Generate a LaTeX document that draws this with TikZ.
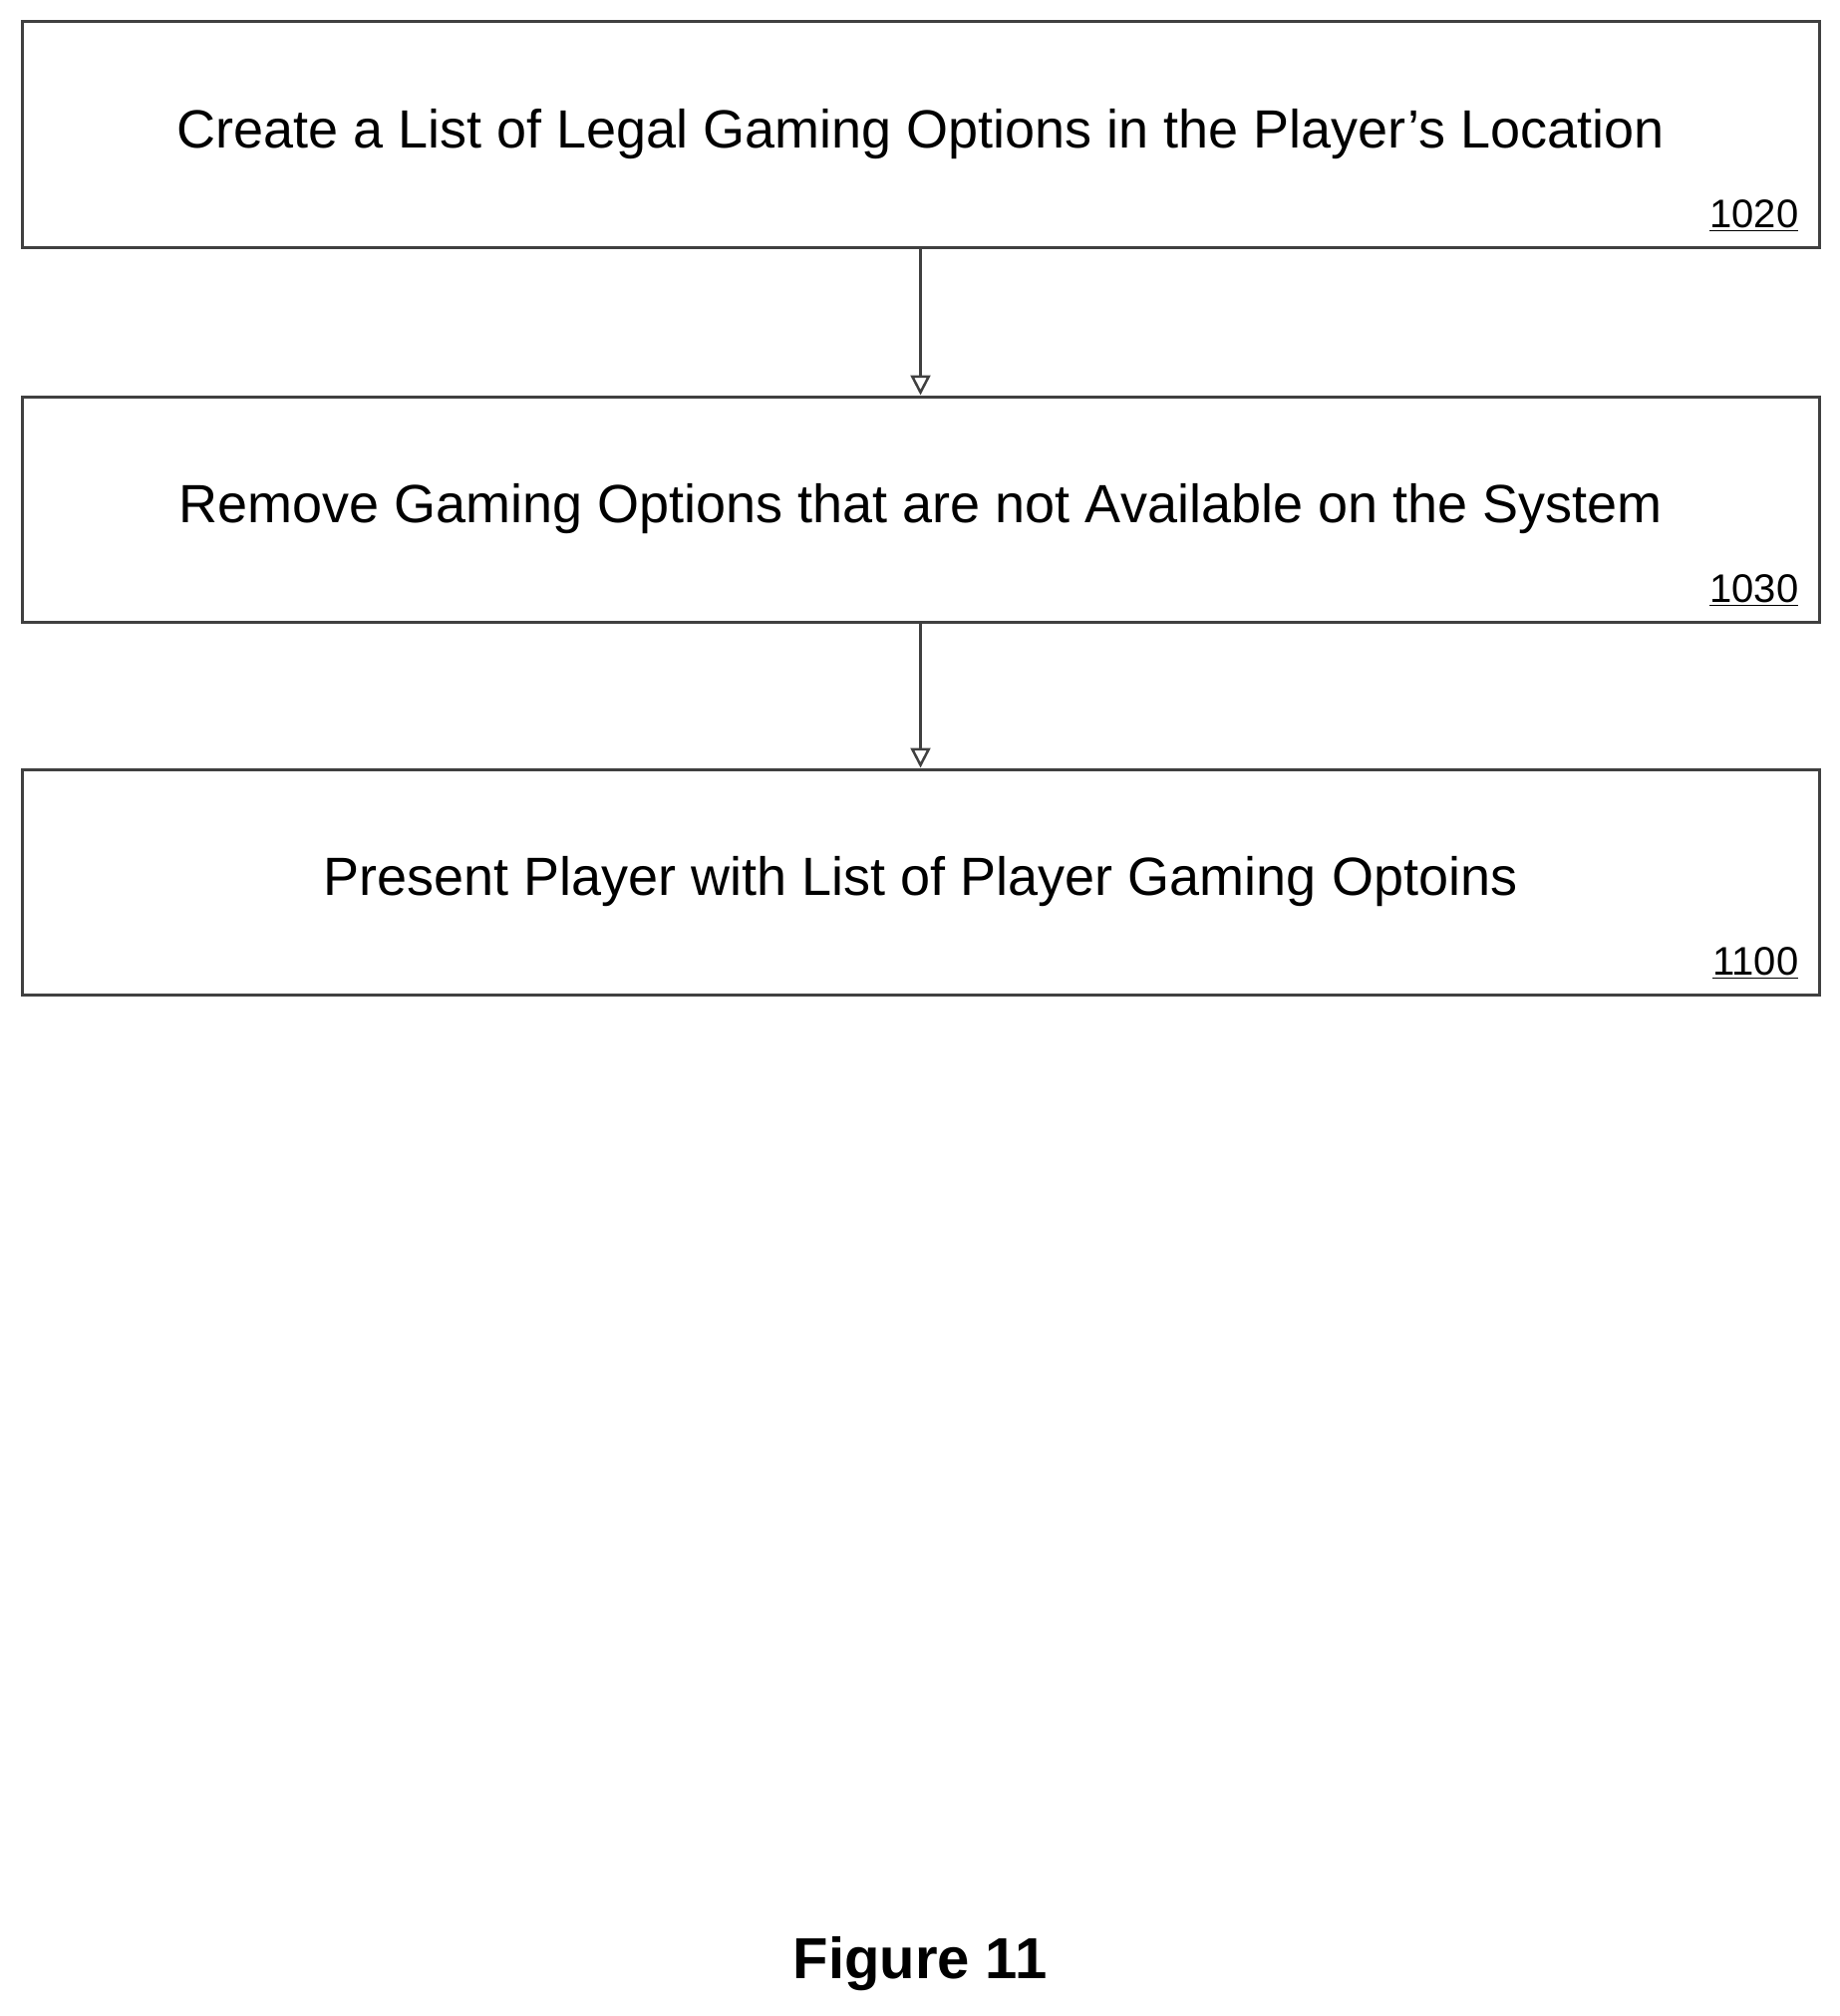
\documentclass[tikz,border=0pt]{standalone}
\usepackage{fontspec}
\setmainfont{Liberation Sans}
\usetikzlibrary{arrows.meta}
\begin{document}
\begin{tikzpicture}[x=1pt,y=-1pt,
  stepbox/.style={draw=black!75,line width=3pt,minimum width=1803pt,minimum height=226pt,inner sep=0pt,font=\fontsize{54}{64}\selectfont},
  tag/.style={font=\fontsize{40}{48}\selectfont,anchor=south east,inner sep=0pt},
  arr/.style={draw=black!75,line width=2.5pt,-{Triangle[open,length=20pt,width=20pt]}}]
\useasboundingbox (0,0) rectangle (1846,2023);
\node[stepbox] (b1) at (923.5,135) {Create a List of Legal Gaming Options in the Player’s Location};
\node[stepbox] (b2) at (923.5,511) {Remove Gaming Options that are not Available on the System};
\node[stepbox] (b3) at (923.5,885) {Present Player with List of Player Gaming Optoins};
\node[tag] (t1) at ([xshift=-22pt,yshift=18pt]b1.south east) {\underline{1020}};
\node[tag] (t2) at ([xshift=-22pt,yshift=18pt]b2.south east) {\underline{1030}};
\node[tag] (t3) at ([xshift=-22pt,yshift=18pt]b3.south east) {\underline{1100}};
\draw[arr] (b1.south) -- (b2.north);
\draw[arr] (b2.south) -- (b3.north);
\node[font=\bfseries\fontsize{58}{70}\selectfont] (fig) at (923,1971) {Figure 11};
\end{tikzpicture}
\end{document}
